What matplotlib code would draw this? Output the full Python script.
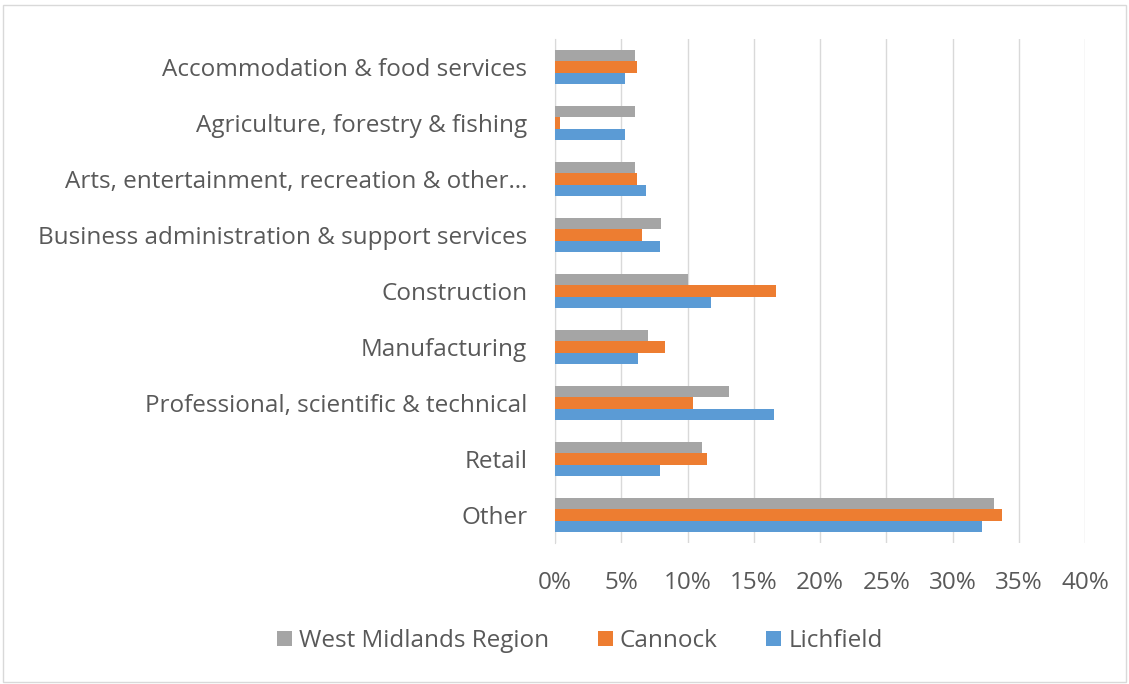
import matplotlib
matplotlib.use("Agg")
import matplotlib.pyplot as plt
from matplotlib.patches import Rectangle
from matplotlib.ticker import PercentFormatter
import numpy as np

categories = [
    "Accommodation & food services",
    "Agriculture, forestry & fishing",
    "Arts, entertainment, recreation & other\u2026",
    "Business administration & support services",
    "Construction",
    "Manufacturing",
    "Professional, scientific & technical",
    "Retail",
    "Other",
]
west_midlands = [6.0, 6.0, 6.0, 8.0, 10.0, 7.0, 13.1, 11.1, 33.1]
cannock = [6.2, 0.4, 6.2, 6.6, 16.7, 8.3, 10.4, 11.5, 33.7]
lichfield = [5.3, 5.3, 6.9, 7.9, 11.8, 6.3, 16.5, 7.9, 32.2]
series_names = ["West Midlands Region", "Cannock", "Lichfield"]
colors = ["#A5A5A5", "#ED7D31", "#5B9BD5"]

plt.rcParams['font.family'] = ['Open Sans', 'DejaVu Sans']

fig = plt.figure(figsize=(11.29, 6.84), dpi=100)
ax = fig.add_axes([555/1129, 1 - 543/684, (1085-555)/1129, (543-39)/684])

y = np.arange(len(categories))
h = 0.2
for i, (vals, name, c) in enumerate(zip([west_midlands, cannock, lichfield], series_names, colors)):
    ax.barh(y + (i - 1) * h, vals, height=h, color=c, label=name, zorder=3)

ax.set_ylim(len(categories) - 0.5, -0.5)
ax.set_xlim(0, 40)
ax.set_xticks(np.arange(0, 41, 5))
ax.xaxis.set_major_formatter(PercentFormatter(decimals=0))
ax.set_yticks(y)
ax.set_yticklabels(categories)
ax.grid(axis='x', color='#D9D9D9', linewidth=1, zorder=0)
for s in ['top', 'right', 'bottom']:
    ax.spines[s].set_visible(False)
ax.spines['left'].set_color('#D9D9D9')
ax.tick_params(axis='both', length=0, labelsize=17.5, colors='#595959')
ax.tick_params(axis='y', pad=20)
ax.tick_params(axis='x', pad=20)

handles, labels = ax.get_legend_handles_labels()
fig.legend(handles, labels, loc='center', bbox_to_anchor=(580/1129, 1 - 641/684),
           ncol=3, frameon=False, fontsize=17.5, labelcolor='#595959',
           handlelength=0.6, handleheight=0.6, handletextpad=0.3, columnspacing=2.0)

fig.patches.append(Rectangle((0.003, 0.003), 0.994, 0.99, transform=fig.transFigure,
                             fill=False, edgecolor='#D9D9D9', linewidth=1))
fig.savefig("out.png", dpi=100, facecolor='white')
